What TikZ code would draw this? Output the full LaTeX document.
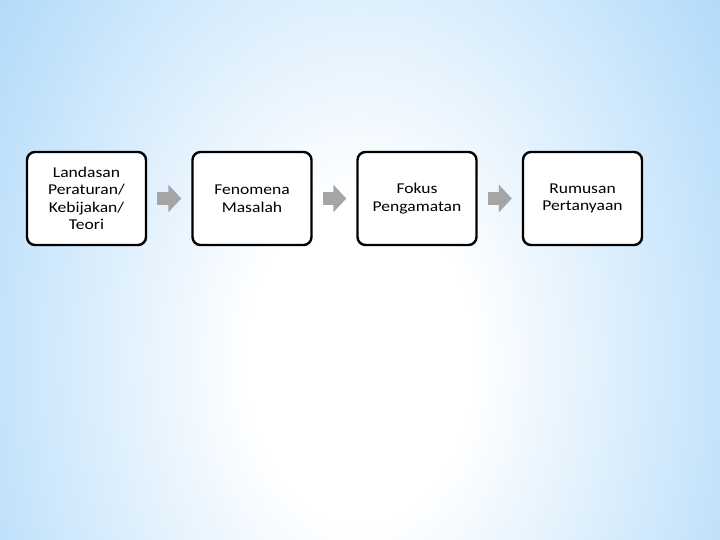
\documentclass[tikz,border=0pt]{standalone}
\usepackage{fontspec}
\setmainfont{Carlito}[FakeStretch=1.17]
\usetikzlibrary{positioning, arrows.meta}

\definecolor{skyblue}{RGB}{150,205,248}
\definecolor{arrowgrey}{RGB}{165,165,165}
\pgfdeclareradialshading{bgsky}{\pgfpoint{0bp}{0bp}}{%
  color(0bp)=(white); color(10bp)=(white); color(50bp)=(skyblue)}

\begin{document}
\begin{tikzpicture}[
    x=1pt, y=-1pt,
    box/.style={rectangle, rounded corners=8pt, draw=black, line width=2.4pt, fill=white,
                minimum width=119pt, minimum height=93pt, align=center,
                font=\fontsize{15}{17.5}\selectfont},
    flow/.style={draw=arrowgrey, line width=13pt, shorten <=10pt, shorten >=10pt,
                 -{Triangle[length=13pt, width=27pt, fill=arrowgrey]}}
]

    % --- Latar belakang ---
    \useasboundingbox (0,0) rectangle (720,540);
    \begin{scope}
        \clip (0,0) rectangle (720,540);
        \fill[skyblue] (0,0) rectangle (720,540);
        \begin{scope}[shift={(360,360)}, xscale=11.16, yscale=15.94]
            \node[inner sep=0pt, transform shape] (bg) {\pgfuseshading{bgsky}};
        \end{scope}
    \end{scope}

    % --- Kotak alur ---
    \node[box] (landasan) at (86.5,198.5) {Landasan\\Peraturan/\\Kebijakan/\\Teori};
    \node[box] (fenomena) at (252,198.5)  {Fenomena\\Masalah};
    \node[box] (fokus)    at (417,198.5)  {Fokus\\Pengamatan};
    \node[box] (rumusan)  at (582.5,198.5) {Rumusan\\Pertanyaan};

    % --- Panah antar kotak ---
    \draw[flow] (landasan) -- (fenomena);
    \draw[flow] (fenomena) -- (fokus);
    \draw[flow] (fokus) -- (rumusan);

\end{tikzpicture}
\end{document}
